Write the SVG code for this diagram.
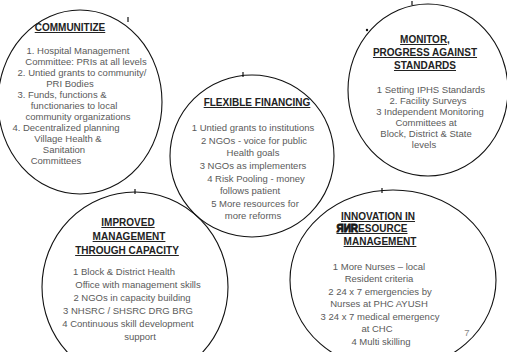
<svg xmlns="http://www.w3.org/2000/svg" width="507" height="352" viewBox="0 0 507 352">
<style>
.c{fill:none;stroke:#111;stroke-width:1.1}
.t{font-family:"Liberation Sans",Arial,sans-serif;font-size:10px;font-weight:bold;fill:#222;text-anchor:middle;text-decoration:underline}
.b{font-family:"Liberation Sans",Arial,sans-serif;font-size:9.5px;fill:#5a5a5a;text-anchor:middle}
.k{stroke:#111;stroke-width:1.2}
</style>
<rect width="507" height="352" fill="#fff"/>
<g id="communitize">
<ellipse class="c" cx="80" cy="102" rx="82" ry="92"/>
<text class="t" x="70" y="31">COMMUNITIZE</text>
<text class="b" x="78" y="54">1. Hospital Management</text>
<text class="b" x="86" y="65">Committee: PRIs at all levels</text>
<text class="b" x="82" y="76">2. Untied grants to community/</text>
<text class="b" x="70" y="87">PRI Bodies</text>
<text class="b" x="62" y="98">3. Funds, functions &amp;</text>
<text class="b" x="74" y="109">functionaries to local</text>
<text class="b" x="78" y="120">community organizations</text>
<text class="b" x="66" y="131">4. Decentralized planning</text>
<text class="b" x="68" y="142">Village Health &amp;</text>
<text class="b" x="64" y="153">Sanitation</text>
<text class="b" x="56" y="164">Committees</text>
</g>
<g id="flexible">
<ellipse class="c" cx="252" cy="156" rx="82" ry="81"/>
<text class="t" x="257" y="106">FLEXIBLE FINANCING</text>
<text class="b" x="253" y="131">1  Untied grants to institutions</text>
<text class="b" x="254" y="144">2  NGOs - voice for public</text>
<text class="b" x="253" y="156">Health goals</text>
<text class="b" x="253" y="169">3  NGOs as implementers</text>
<text class="b" x="256" y="182">4  Risk Pooling - money</text>
<text class="b" x="250" y="194">follows patient</text>
<text class="b" x="255" y="207">5  More resources for</text>
<text class="b" x="253" y="219">more reforms</text>
</g>
<g id="monitor">
<ellipse class="c" cx="428" cy="90" rx="80" ry="86"/>
<text class="t" x="425" y="43">MONITOR,</text>
<text class="t" x="425" y="56">PROGRESS AGAINST</text>
<text class="t" x="425" y="69">STANDARDS</text>
<text class="b" x="431" y="93">1  Setting IPHS Standards</text>
<text class="b" x="428" y="104">2. Facility Surveys</text>
<text class="b" x="430" y="115">3  Independent Monitoring</text>
<text class="b" x="426" y="126">Committees at</text>
<text class="b" x="426" y="137">Block, District &amp; State</text>
<text class="b" x="424" y="148">levels</text>
</g>
<g id="improved">
<ellipse class="c" cx="135" cy="287" rx="93" ry="95"/>
<text class="t" x="128" y="226">IMPROVED</text>
<text class="t" x="129" y="240">MANAGEMENT</text>
<text class="t" x="127" y="254">THROUGH CAPACITY</text>
<text class="b" x="124" y="275">1  Block &amp; District Health</text>
<text class="b" x="138" y="288">Office with management skills</text>
<text class="b" x="132" y="301">2  NGOs in capacity building</text>
<text class="b" x="128" y="314">3   NHSRC / SHSRC   DRG   BRG</text>
<text class="b" x="128" y="327">4  Continuous skill development</text>
<text class="b" x="140" y="340">support</text>
</g>
<g id="innovation">
<ellipse class="c" cx="393" cy="280" rx="103" ry="90"/>
<text class="t" x="378" y="220">INNOVATION IN</text>
<text class="t" x="372" y="232"><tspan style="stroke:#111;stroke-width:0.8">ЯИR</tspan>ESOURCE</text>
<text class="t" x="380" y="245">MANAGEMENT</text>
<text class="b" x="379" y="270">1  More Nurses – local</text>
<text class="b" x="379" y="282">Resident criteria</text>
<text class="b" x="380" y="295">2  24 x 7 emergencies by</text>
<text class="b" x="379" y="307">Nurses at PHC  AYUSH</text>
<text class="b" x="380" y="320">3   24 x 7 medical emergency</text>
<text class="b" x="377" y="332">at CHC</text>
<text class="b" x="381" y="345">4   Multi skilling</text>
<text class="b" x="467" y="336" style="fill:#888">7</text>
</g>
<g id="connectors">
<line class="k" x1="128" y1="17" x2="128" y2="22"/>
<line class="k" x1="243" y1="72" x2="243" y2="77"/>
<line class="k" x1="412" y1="1" x2="412" y2="5"/>
<circle cx="367" cy="30" r="1.2" fill="#111"/>
<line class="k" x1="135" y1="189" x2="135" y2="194"/>
<line class="k" x1="382" y1="188" x2="382" y2="193"/>
</g>
</svg>
